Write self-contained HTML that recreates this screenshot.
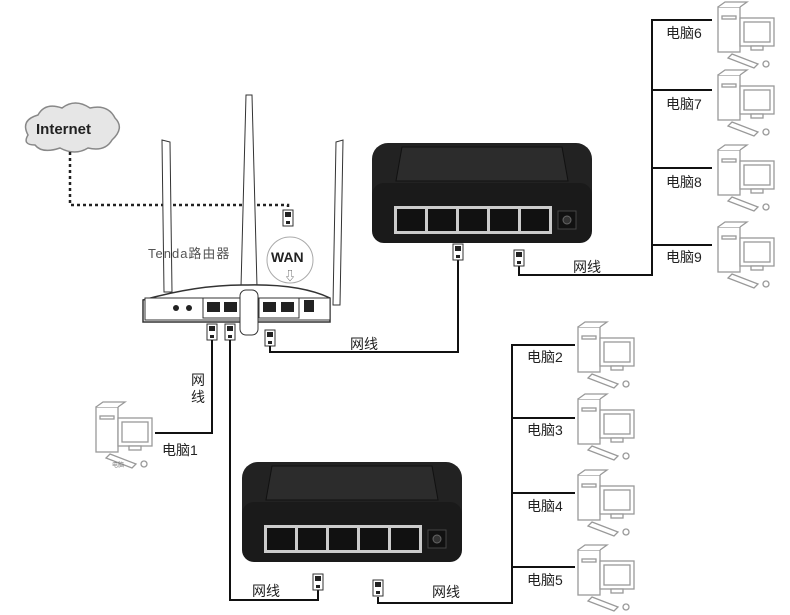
<!DOCTYPE html>
<html><head><meta charset="utf-8"><style>
body{margin:0;background:#fff;}
svg{display:block;font-family:"Liberation Sans","Noto Sans CJK SC",sans-serif;}
</style></head><body>
<svg width="790" height="615" viewBox="0 0 790 615" xmlns="http://www.w3.org/2000/svg">
<defs>
<g id="pc" fill="#fff" stroke="#999" stroke-width="1.3">
  <rect x="0" y="5" width="22" height="45"/>
  <rect x="4" y="14" width="14" height="3"/>
  <path d="M0 5 L7 0 L29 0 L22 5"/>
  <rect x="22" y="16" width="34" height="28"/>
  <rect x="26" y="20" width="26" height="20"/>
  <rect x="33" y="44" width="12" height="4"/>
  <path d="M14 52 L40 62 L36 66 L10 56 Z"/>
  <circle cx="48" cy="62" r="3"/>
</g>
<g id="sw">
  <rect x="0" y="0" width="220" height="100" rx="16" fill="#222"/>
  <rect x="0" y="40" width="220" height="60" rx="12" fill="#1a1a1a"/>
  <path d="M30 4 H190 L196 38 H24 Z" fill="#2c2c2c" stroke="#111"/>
  <rect x="22" y="63" width="158" height="28" fill="#ccc"/>
  <g fill="#111">
    <rect x="25" y="66" width="28" height="22"/><rect x="56" y="66" width="28" height="22"/>
    <rect x="87" y="66" width="28" height="22"/><rect x="118" y="66" width="28" height="22"/>
    <rect x="149" y="66" width="28" height="22"/>
  </g>
  <rect x="186" y="68" width="18" height="18" fill="#111" stroke="#444"/>
  <circle cx="195" cy="77" r="4" fill="#333" stroke="#666"/>
</g>
<g id="plug"><rect x="-5" y="0" width="10" height="16" fill="#fff" stroke="#333"/><rect x="-3" y="2" width="6" height="5" fill="#222"/><rect x="-2" y="11" width="4" height="3" fill="#222"/></g>
</defs>

<!-- cloud -->
<path d="M28 135 Q20 120 38 115 Q45 102 62 108 Q75 98 90 108 Q108 104 115 118 Q125 128 112 140 Q105 152 88 148 Q75 156 60 148 Q42 154 35 145 Q22 145 28 135 Z" fill="#e6e6e6" stroke="#888" stroke-width="1.5"/>
<text x="36" y="134" font-size="15" font-weight="bold" fill="#222">Internet</text>
<path d="M70 152 V205 H288 V212" fill="none" stroke="#222" stroke-width="2.5" stroke-dasharray="3,3"/>
<use href="#plug" x="288" y="210"/>

<!-- router antennas -->
<path d="M162 140 L170 142 L172 292 L164 292 Z" fill="#fff" stroke="#333"/>
<path d="M246 95 L252 95 L258 325 L240 325 Z" fill="#fff" stroke="#333"/>
<path d="M336 142 L343 140 L340 305 L333 305 Z" fill="#fff" stroke="#333"/>
<text x="148" y="258" font-size="13" fill="#555" letter-spacing="1">Tenda路由器</text>
<circle cx="290" cy="260" r="23" fill="#fff" stroke="#aaa"/>
<text x="271" y="262" font-size="14" font-weight="bold" fill="#222">WAN</text>
<text x="284" y="280" font-size="12" fill="#666">⇩</text>
<!-- router body -->
<path d="M143 300 Q200 284 248 285 Q300 284 330 298 V322 H143 Z" fill="#fff" stroke="#333" stroke-width="1.5"/>
<rect x="145" y="298" width="185" height="22" fill="#fff" stroke="#333"/>
<circle cx="176" cy="308" r="3" fill="#222"/><circle cx="189" cy="308" r="3" fill="#222"/>
<rect x="203" y="298" width="38" height="20" fill="#fff" stroke="#333"/>
<rect x="207" y="302" width="13" height="10" fill="#222"/><rect x="224" y="302" width="13" height="10" fill="#222"/>
<rect x="259" y="298" width="40" height="20" fill="#fff" stroke="#333"/>
<rect x="263" y="302" width="13" height="10" fill="#222"/><rect x="281" y="302" width="13" height="10" fill="#222"/>
<rect x="304" y="300" width="10" height="12" fill="#222"/>
<rect x="240" y="290" width="18" height="45" rx="6" fill="#fff" stroke="#333"/>
<use href="#plug" x="212" y="324"/><use href="#plug" x="230" y="324"/><use href="#plug" x="270" y="330"/>

<g fill="none" stroke="#111" stroke-width="2">
  <path d="M270 346 V352 H458 V258"/>
  <path d="M212 340 V433 H155"/>
  <path d="M230 340 V600 H318 V590"/>
  <path d="M378 597 V603 H512 V345 H575"/>
  <path d="M512 418 H575 M512 493 H575 M512 567 H575"/>
  <path d="M519 265 V275 H652 V20 H712"/>
  <path d="M652 90 H712 M652 168 H712 M652 245 H712"/>
</g>

<use href="#sw" x="372" y="143"/>
<use href="#sw" x="242" y="462"/>
<use href="#plug" x="458" y="244"/><use href="#plug" x="519" y="250"/>
<use href="#plug" x="318" y="574"/><use href="#plug" x="378" y="580"/>

<g font-size="14" fill="#222">
<text x="350" y="349">网线</text>
<text x="573" y="272">网线</text>
<text x="252" y="596">网线</text>
<text x="432" y="597">网线</text>
<text x="191" y="385">网</text><text x="191" y="402">线</text>
<text x="162" y="455">电脑1</text>
<text x="527" y="362">电脑2</text>
<text x="527" y="435">电脑3</text>
<text x="527" y="511">电脑4</text>
<text x="527" y="585">电脑5</text>
<text x="666" y="38">电脑6</text>
<text x="666" y="109">电脑7</text>
<text x="666" y="187">电脑8</text>
<text x="666" y="262">电脑9</text>
</g>
<use href="#pc" x="96" y="402"/>
<text x="112" y="467" font-size="6" fill="#777">电脑</text>
<use href="#pc" x="578" y="322"/><use href="#pc" x="578" y="394"/>
<use href="#pc" x="578" y="470"/><use href="#pc" x="578" y="545"/>
<use href="#pc" x="718" y="2"/><use href="#pc" x="718" y="70"/>
<use href="#pc" x="718" y="145"/><use href="#pc" x="718" y="222"/>
</svg>
</body></html>
